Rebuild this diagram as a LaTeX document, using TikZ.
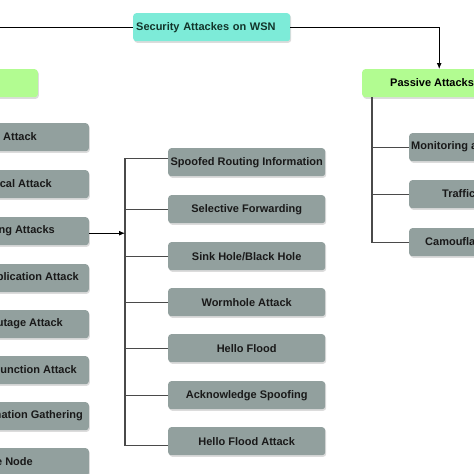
\documentclass[tikz,border=0pt]{standalone}
\usepackage{fontspec}
\setmainfont{Liberation Sans}
\usetikzlibrary{arrows.meta,shadows}
\definecolor{topc}{HTML}{7DEBD8}
\definecolor{topt}{HTML}{12342A}
\definecolor{grn}{HTML}{B2FC91}
\definecolor{gry}{HTML}{92A09E}
\definecolor{busc}{HTML}{4A4A4A}
\begin{document}
\begin{tikzpicture}[x=1pt,y=-1pt,
  font=\fontsize{11}{13}\selectfont\bfseries,
  shd/.style={drop shadow={shadow xshift=1pt,shadow yshift=-1.6pt,fill=black!30,opacity=0.45}},
  topbox/.style={shd,fill=topc,rounded corners=3pt,minimum height=28pt,inner ysep=0pt,text=topt},
  greenbox/.style={shd,fill=grn,rounded corners=3pt,minimum height=28pt,inner sep=0pt},
  graybox/.style={shd,fill=gry,rounded corners=3pt,minimum height=28pt,inner sep=0pt,text=black!90},
  lbl/.style={inner sep=0pt,text=black!90},
  conn/.style={draw=black,line width=0.9pt},
  bus/.style={draw=busc,line width=1.1pt},
  tip/.style={-{Latex[length=6pt,width=5pt]}}]
\useasboundingbox (0,0) rectangle (474,474);
\clip (0,0) rectangle (474,474);
\fill[white] (0,0) rectangle (474,474);

% top
\node[topbox,anchor=north west,text width=151pt,inner xsep=3pt,align=left] (top) at (133,13) {Security Attackes on WSN};

% category boxes
\node[greenbox,minimum width=130pt,anchor=north east] (act) at (38,69) {};
\node[greenbox,minimum width=154pt,anchor=north west] (pas) at (362,69) {};
\node[lbl,anchor=west,text=black] (pastxt) at (390,83) {Passive Attacks};

\draw[conn,tip] (top.west) -| (act.north);
\draw[conn,tip] (top.east) -| (pas.north);

% left gray boxes
\foreach \i/\t/\e/\yy in {1/Attack/37/123, 2/cal Attack/52/170, 3/ng Attacks/55/217, 4/plication Attack/79/264,
  5/utage Attack/63/310, 6/unction Attack/77/356, 7/mation Gathering/83/402, 8/e Node/33/448}{
  \node[graybox,minimum width=150pt,anchor=north east] (l\i) at (89,\yy) {};
  \node[lbl,anchor=east] (lt\i) at (\e,\yy+14) {\t};
}

% middle gray boxes
\foreach \i/\t/\yy in {1/Spoofed Routing Information/148, 2/Selective Forwarding/195, 3/Sink Hole\slash Black Hole/242,
  4/Wormhole Attack/288, 5/Hello Flood/334, 6/Acknowledge Spoofing/381, 7/Hello Flood Attack/427}{
  \node[graybox,minimum width=157pt,anchor=north west] (m\i) at (168,\yy) {\t};
}

\coordinate (busx) at (125,0);
\draw[bus] ([yshift=4pt]m1.west) -| (busx |- 0,158) |- ([yshift=-4pt]m7.west);
\foreach \i in {2,...,6}{ \draw[bus] (m\i.west) -- (m\i.west -| busx); }
\draw[conn,tip] ([yshift=-2pt]l3.east) -- ([yshift=-2pt]l3.east -| busx);

% right gray boxes
\foreach \i/\yy in {1/133, 2/180, 3/228}{
  \node[graybox,minimum width=157pt,anchor=north west] (r\i) at (409,\yy) {};
}
\node[lbl,anchor=west] (rt1) at (411,146.5) {Monitoring a};
\node[lbl,anchor=west] (rt2) at (442,193.5) {Traffic};
\node[lbl,anchor=west] (rt3) at (425,241.5) {Camoufla};

\coordinate (pb) at ([xshift=10pt]pas.south west);
\draw[bus] (pb) |- (r3.west);
\draw[bus] (r1.west) -- (r1.west -| pb);
\draw[bus] (r2.west) -- (r2.west -| pb);
\end{tikzpicture}
\end{document}
